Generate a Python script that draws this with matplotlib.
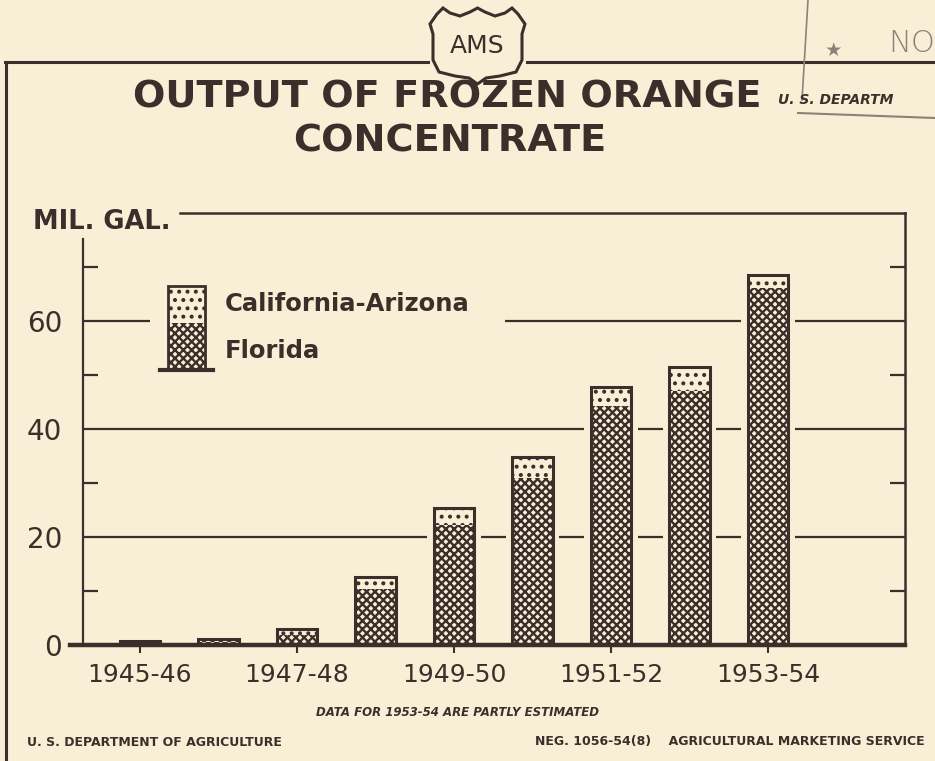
import matplotlib
matplotlib.use("Agg")
import matplotlib.pyplot as plt
import numpy as np
from matplotlib.patches import Rectangle, PathPatch
from matplotlib.path import Path
from matplotlib.lines import Line2D

# ---- data ----
seasons = ['1945-46', '1946-47', '1947-48', '1948-49', '1949-50',
           '1950-51', '1951-52', '1952-53', '1953-54']
florida = [0.4, 0.6, 1.9, 10.4, 22.2, 30.9, 44.3, 47.0, 66.1]
cal_ariz = [0.4, 0.5, 1.1, 2.2, 3.2, 3.9, 3.5, 4.5, 2.4]
shown_labels = ['1945-46', '1947-48', '1949-50', '1951-52', '1953-54']
y_labels = [0, 20, 40, 60]
y_minor = [10, 30, 50, 70]

BG = '#f8f0d6'
INK = '#3a2f2a'
GRAY = '#8c8278'

plt.rcParams['hatch.linewidth'] = 1.7
W, H = 935, 761
fig = plt.figure(figsize=(W / 100, H / 100), dpi=100, facecolor=BG)


def fx(x):
    return x / W


def fy(y):
    return 1 - y / H


ax_l, ax_r, ax_t, ax_b = 83, 905, 213, 645
ax = fig.add_axes([fx(ax_l), fy(ax_b), fx(ax_r) - fx(ax_l), fy(ax_t) - fy(ax_b)])
ax.set_facecolor(BG)

x = np.arange(len(seasons))
bw = 0.51
ax.set_xlim(-0.726, 9.745)
ax.set_ylim(0, 80)

totals = np.array(florida) + np.array(cal_ariz)

# gridlines
for v in [20, 40, 60]:
    ax.axhline(v, color=INK, lw=1.6, zorder=1)

# halo to break gridlines around bars
ax.bar(x, totals, width=bw + 0.17, color=BG, edgecolor='none', zorder=2)
# stacked bars
ax.bar(x, florida, width=bw, color=BG, edgecolor=INK, linewidth=0,
       hatch='xxxx', zorder=3)
ax.bar(x, cal_ariz, bottom=florida, width=bw, color=BG, edgecolor=INK,
       linewidth=0, hatch='..', zorder=3)
ax.bar(x, totals, width=bw, fill=False, edgecolor=INK, linewidth=2.2, zorder=4)

# baseline
ax.axhline(0, xmin=-0.016, xmax=1.0, color=INK, lw=3.2, zorder=5, clip_on=False)

# spines
for s in ['top', 'bottom']:
    ax.spines[s].set_visible(False)
ax.spines['left'].set_bounds(0, 75.2)
ax.spines['left'].set_color(INK)
ax.spines['left'].set_linewidth(1.6)
ax.spines['right'].set_color(INK)
ax.spines['right'].set_linewidth(1.8)
ax.add_line(Line2D([0.118, 1.0], [1.0, 1.0], transform=ax.transAxes,
                   color=INK, lw=1.8, clip_on=False))

# y ticks
ax.set_yticks(y_labels)
ax.set_yticklabels([str(v) for v in y_labels], fontsize=20, color=INK,
                   family='DejaVu Sans')
ax.tick_params(axis='y', which='major', length=0, pad=15)
ax.set_yticks(y_minor, minor=True)
ax.tick_params(axis='y', which='minor', direction='in', length=11, width=1.6,
               color=INK, left=True, right=True)

# x ticks
tick_pos = [seasons.index(s) for s in shown_labels]
ax.set_xticks(tick_pos)
ax.set_xticklabels(shown_labels, fontsize=18, color=INK, family='DejaVu Sans')
ax.tick_params(axis='x', which='major', direction='out', length=6, width=1.5,
               color=INK, pad=7)

# legend (manual, stacked swatch)
lg = dict(transform=ax.transAxes, clip_on=False)
ax.add_patch(Rectangle((0.081, 0.66), 0.432, 0.25, facecolor=BG,
                       edgecolor='none', zorder=1.5, **lg))
ax.add_patch(Rectangle((0.103, 0.745), 0.045, 0.086, facecolor=BG,
                       edgecolor=INK, linewidth=0, hatch='..', zorder=6, **lg))
ax.add_patch(Rectangle((0.103, 0.637), 0.045, 0.108, facecolor=BG,
                       edgecolor=INK, linewidth=0, hatch='xxxx', zorder=6, **lg))
ax.add_patch(Rectangle((0.103, 0.637), 0.045, 0.194, fill=False,
                       edgecolor=INK, linewidth=2, zorder=7, **lg))
ax.add_line(Line2D([0.094, 0.158], [0.637, 0.637], color=INK, lw=3,
                   zorder=7, **lg))
ax.text(0.173, 0.79, 'California-Arizona', fontsize=17.5, fontweight='bold',
        color=INK, va='center', ha='left', transform=ax.transAxes, zorder=7)
ax.text(0.173, 0.68, 'Florida', fontsize=17.5, fontweight='bold',
        color=INK, va='center', ha='left', transform=ax.transAxes, zorder=7)

# axis unit label
fig.text(fx(33), fy(222), 'MIL. GAL.', fontsize=18.5, fontweight='bold',
         color=INK, va='center', ha='left')

# title
fig.text(fx(447), fy(97), 'OUTPUT OF FROZEN ORANGE', fontsize=27.5,
         fontweight='bold', color=INK, ha='center', va='center')
fig.text(fx(450), fy(141), 'CONCENTRATE', fontsize=27.5,
         fontweight='bold', color=INK, ha='center', va='center')

# frame
fig.add_artist(Line2D([fx(5), fx(428)], [fy(62), fy(62)], color=INK, lw=2.2))
fig.add_artist(Line2D([fx(527), fx(935)], [fy(62), fy(62)], color=INK, lw=2.2))
fig.add_artist(Line2D([fx(6), fx(6)], [fy(62), fy(761)], color=INK, lw=2.2))

# AMS shield
cx = 477.5
pts = [(430, 24), (437, 14), (443, 8), (450, 13), (460, 16), (470, 12),
       (477.5, 8), (485, 12), (495, 16), (505, 13), (512, 8), (518, 14),
       (525, 24), (522, 34), (522, 60), (516, 72), (500, 76), (486, 78),
       (477.5, 84), (469, 78), (455, 76), (439, 72), (433, 60), (433, 34),
       (430, 24)]
verts = [(fx(px), fy(py)) for px, py in pts]
shield = PathPatch(Path(verts, closed=True), facecolor=BG, edgecolor=INK,
                   lw=2.2, transform=fig.transFigure)
fig.add_artist(shield)
fig.text(fx(cx), fy(46), 'AMS', fontsize=18, color=INK, ha='center',
         va='center')

# stamp remnants
fig.add_artist(Line2D([fx(808), fx(802)], [fy(0), fy(100)], color=GRAY, lw=1.2))
fig.text(fx(833), fy(50), '★', fontsize=14, color=GRAY, ha='center',
         va='center')
fig.text(fx(888), fy(43), 'NO', fontsize=22, color=GRAY, ha='left',
         va='center', fontweight='light')
fig.text(fx(778), fy(100), 'U. S. DEPARTM', fontsize=10, color=INK, ha='left',
         va='center', style='italic', fontweight='bold')
fig.add_artist(Line2D([fx(798), fx(935)], [fy(113), fy(118)], color=GRAY,
                      lw=1.5))

# footnotes
fig.text(fx(458), fy(712), 'DATA FOR 1953-54 ARE PARTLY ESTIMATED',
         fontsize=8.5, style='italic', fontweight='bold', color=INK,
         ha='center', va='center')
fig.text(fx(27), fy(742), 'U. S. DEPARTMENT OF AGRICULTURE', fontsize=9,
         fontweight='bold', color=INK, ha='left', va='center')
fig.text(fx(925), fy(742), 'NEG. 1056-54(8)    AGRICULTURAL MARKETING SERVICE',
         fontsize=9, fontweight='bold', color=INK, ha='right', va='center')

fig.savefig('out.png', dpi=100, facecolor=BG)
